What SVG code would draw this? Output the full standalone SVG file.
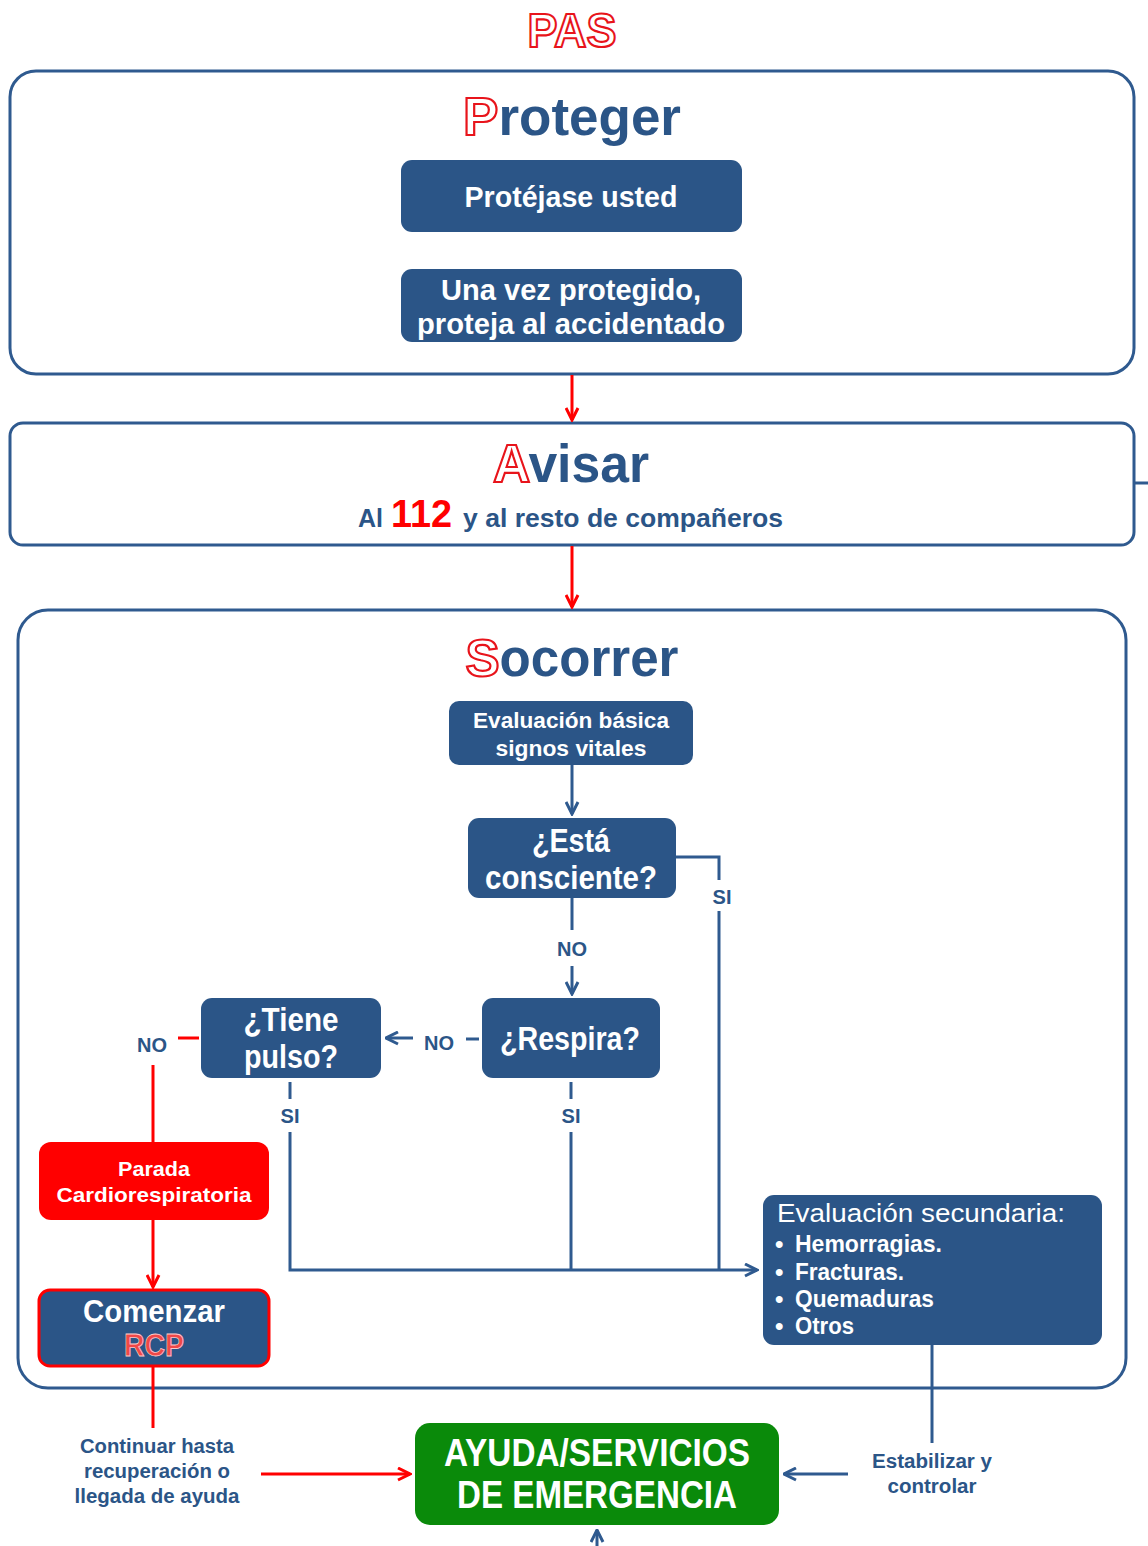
<svg xmlns="http://www.w3.org/2000/svg" width="1148" height="1546" viewBox="0 0 1148 1546">
<defs>
<style>
.frame{fill:#fff;stroke:#2f5a8f;stroke-width:3}
.box{fill:#2b5587}
.wt{fill:#fff;font-family:"Liberation Sans",Arial,sans-serif;font-weight:bold;text-anchor:middle}
.bt{fill:#2b5587;font-family:"Liberation Sans",Arial,sans-serif;font-weight:bold;text-anchor:middle}
.head{fill:#2b5587;font-family:"Liberation Sans",Arial,sans-serif;font-weight:bold;text-anchor:middle}
.init{fill:#fff;stroke:#e8141b;stroke-width:2.2}
.lb{fill:none;stroke:#2f5a8f;stroke-width:3}
.lr{fill:none;stroke:#ff0000;stroke-width:3}
.lab{fill:#2b5587;font-family:"Liberation Sans",Arial,sans-serif;font-size:20px;text-anchor:middle}
</style>
<marker id="ab" viewBox="0 0 10 10" refX="9" refY="5" markerWidth="5" markerHeight="5" orient="auto" markerUnits="strokeWidth"><path d="M1,1 L9,5 L1,9" fill="none" stroke="#2f5a8f" stroke-width="2"/></marker>
<marker id="ar" viewBox="0 0 10 10" refX="9" refY="5" markerWidth="5" markerHeight="5" orient="auto" markerUnits="strokeWidth"><path d="M1,1 L9,5 L1,9" fill="none" stroke="#ff0000" stroke-width="2"/></marker>
</defs>
<rect width="1148" height="1546" fill="#fff"/>

<g id="title">
<text x="572" y="47" font-family="'Liberation Sans',Arial,sans-serif" font-weight="bold" font-size="48" text-anchor="middle" textLength="89" lengthAdjust="spacingAndGlyphs" fill="#fff" stroke="#e8141b" stroke-width="2.2">PAS</text>
</g>

<g id="proteger">
<rect class="frame" x="10" y="71" width="1124" height="303" rx="26"/>
<text class="head" x="572" y="135" font-size="53"><tspan class="init">P</tspan>roteger</text>
</g>
<g id="protejase">
<rect class="box" x="401" y="160" width="341" height="72" rx="11"/>
<text class="wt" x="571" y="207" font-size="30" textLength="213" lengthAdjust="spacingAndGlyphs">Protéjase usted</text>
</g>
<g id="una-vez">
<rect class="box" x="401" y="269" width="341" height="73" rx="11"/>
<text class="wt" x="571" y="300" font-size="30" textLength="260" lengthAdjust="spacingAndGlyphs">Una vez protegido,</text>
<text class="wt" x="571" y="334" font-size="30" textLength="308" lengthAdjust="spacingAndGlyphs">proteja al accidentado</text>
</g>

<g id="avisar">
<rect class="frame" x="10" y="423" width="1124" height="122" rx="13"/>
<text class="head" x="571" y="482" font-size="53" textLength="156" lengthAdjust="spacingAndGlyphs"><tspan class="init">A</tspan>visar</text>
<text x="358" y="527" font-family="'Liberation Sans',Arial,sans-serif" font-weight="bold" font-size="25" fill="#2b5587">Al</text>
<text x="391" y="527" font-family="'Liberation Sans',Arial,sans-serif" font-weight="bold" font-size="39" fill="#ff0000" textLength="61" lengthAdjust="spacingAndGlyphs">112</text>
<text x="463" y="527" font-family="'Liberation Sans',Arial,sans-serif" font-weight="bold" font-size="25" fill="#2b5587" textLength="320" lengthAdjust="spacingAndGlyphs">y al resto de compañeros</text>
</g>

<g id="socorrer">
<rect class="frame" x="18" y="610" width="1108" height="778" rx="30"/>
<text class="head" x="572" y="676" font-size="51" textLength="213" lengthAdjust="spacingAndGlyphs"><tspan class="init">S</tspan>ocorrer</text>
</g>

<g id="eval-basica">
<rect class="box" x="449" y="701" width="244" height="64" rx="10"/>
<text class="wt" x="571" y="728" font-size="22" textLength="196" lengthAdjust="spacingAndGlyphs">Evaluación básica</text>
<text class="wt" x="571" y="756" font-size="22" textLength="151" lengthAdjust="spacingAndGlyphs">signos vitales</text>
</g>

<g id="consciente">
<rect class="box" x="468" y="818" width="208" height="80" rx="11"/>
<text class="wt" x="571" y="852" font-size="33" textLength="78" lengthAdjust="spacingAndGlyphs">¿Está</text>
<text class="wt" x="571" y="889" font-size="33" textLength="172" lengthAdjust="spacingAndGlyphs">consciente?</text>
</g>

<g id="respira">
<rect class="box" x="482" y="998" width="178" height="80" rx="11"/>
<text class="wt" x="570" y="1050" font-size="33" textLength="140" lengthAdjust="spacingAndGlyphs">¿Respira?</text>
</g>

<g id="pulso">
<rect class="box" x="201" y="998" width="180" height="80" rx="11"/>
<text class="wt" x="291" y="1031" font-size="33" textLength="95" lengthAdjust="spacingAndGlyphs">¿Tiene</text>
<text class="wt" x="291" y="1068" font-size="33" textLength="94" lengthAdjust="spacingAndGlyphs">pulso?</text>
</g>

<g id="parada">
<rect x="39" y="1142" width="230" height="78" rx="12" fill="#ff0000"/>
<text class="wt" x="154" y="1176" font-size="21" textLength="72" lengthAdjust="spacingAndGlyphs">Parada</text>
<text class="wt" x="154" y="1202" font-size="21" textLength="195" lengthAdjust="spacingAndGlyphs">Cardiorespiratoria</text>
</g>

<g id="rcp">
<rect x="39" y="1290" width="230" height="76" rx="11" fill="#2b5587" stroke="#ff0000" stroke-width="3"/>
<text class="wt" x="154" y="1322" font-size="31" textLength="142" lengthAdjust="spacingAndGlyphs">Comenzar</text>
<text x="154" y="1356" font-family="'Liberation Sans',Arial,sans-serif" font-weight="bold" font-size="31" text-anchor="middle" fill="#f04848" stroke="#ffc8c8" stroke-width="0.8" textLength="60" lengthAdjust="spacingAndGlyphs">RCP</text>
</g>

<g id="eval-secundaria">
<rect class="box" x="763" y="1195" width="339" height="150" rx="11"/>
<text x="777" y="1222" font-family="'Liberation Sans',Arial,sans-serif" font-size="25" fill="#fff" textLength="288" lengthAdjust="spacingAndGlyphs">Evaluación secundaria:</text>
<g font-family="'Liberation Sans',Arial,sans-serif" font-size="24" font-weight="bold" fill="#fff">
<text x="775" y="1252">•</text><text x="795" y="1252" textLength="147" lengthAdjust="spacingAndGlyphs">Hemorragias.</text>
<text x="775" y="1280">•</text><text x="795" y="1280" textLength="109" lengthAdjust="spacingAndGlyphs">Fracturas.</text>
<text x="775" y="1307">•</text><text x="795" y="1307" textLength="139" lengthAdjust="spacingAndGlyphs">Quemaduras</text>
<text x="775" y="1334">•</text><text x="795" y="1334" textLength="59" lengthAdjust="spacingAndGlyphs">Otros</text>
</g>
</g>

<g id="ayuda">
<rect x="415" y="1423" width="364" height="102" rx="15" fill="#0a8a0a"/>
<text class="wt" x="597" y="1466" font-size="38" textLength="306" lengthAdjust="spacingAndGlyphs">AYUDA/SERVICIOS</text>
<text class="wt" x="597" y="1508" font-size="38" textLength="280" lengthAdjust="spacingAndGlyphs">DE EMERGENCIA</text>
</g>

<g id="continuar">
<text class="bt" x="157" y="1453" font-size="20" textLength="154" lengthAdjust="spacingAndGlyphs">Continuar hasta</text>
<text class="bt" x="157" y="1478" font-size="20" textLength="146" lengthAdjust="spacingAndGlyphs">recuperación o</text>
<text class="bt" x="157" y="1503" font-size="20" textLength="165" lengthAdjust="spacingAndGlyphs">llegada de ayuda</text>
</g>

<g id="estabilizar">
<text class="bt" x="932" y="1468" font-size="20" textLength="120" lengthAdjust="spacingAndGlyphs">Estabilizar y</text>
<text class="bt" x="932" y="1493" font-size="20" textLength="89" lengthAdjust="spacingAndGlyphs">controlar</text>
</g>

<g id="connectors">
<line class="lr" x1="572" y1="375" x2="572" y2="420" marker-end="url(#ar)"/>
<line class="lb" x1="1135" y1="483" x2="1148" y2="483"/>
<line class="lr" x1="572" y1="546" x2="572" y2="607" marker-end="url(#ar)"/>
<line class="lb" x1="572" y1="765" x2="572" y2="814" marker-end="url(#ab)"/>
<polyline class="lb" points="676,857 719,857 719,880"/>
<text class="lab" x="722" y="904" font-weight="bold" font-size="19">SI</text>
<line class="lb" x1="719" y1="911" x2="719" y2="1270"/>
<line class="lb" x1="572" y1="898" x2="572" y2="930"/>
<text class="lab" x="572" y="956" font-weight="bold" font-size="19">NO</text>
<line class="lb" x1="572" y1="966" x2="572" y2="994" marker-end="url(#ab)"/>
<line class="lb" x1="466" y1="1039" x2="479" y2="1039"/>
<text class="lab" x="439" y="1050" font-weight="bold" font-size="19">NO</text>
<line class="lb" x1="413" y1="1038" x2="386" y2="1038" marker-end="url(#ab)"/>
<line class="lr" x1="178" y1="1038" x2="199" y2="1038"/>
<text class="lab" x="152" y="1052" font-weight="bold" font-size="19">NO</text>
<line class="lr" x1="153" y1="1065" x2="153" y2="1142"/>
<line class="lb" x1="290" y1="1082" x2="290" y2="1099"/>
<text class="lab" x="290" y="1123" font-weight="bold" font-size="19">SI</text>
<polyline class="lb" points="290,1132 290,1270 757,1270" marker-end="url(#ab)"/>
<line class="lb" x1="571" y1="1082" x2="571" y2="1099"/>
<text class="lab" x="571" y="1123" font-weight="bold" font-size="19">SI</text>
<line class="lb" x1="571" y1="1132" x2="571" y2="1270"/>
<line class="lr" x1="153" y1="1220" x2="153" y2="1287" marker-end="url(#ar)"/>
<line class="lr" x1="153" y1="1366" x2="153" y2="1428"/>
<line class="lb" x1="932" y1="1345" x2="932" y2="1443"/>
<line class="lb" x1="848" y1="1474" x2="784" y2="1474" marker-end="url(#ab)"/>
<line class="lr" x1="261" y1="1474" x2="410" y2="1474" marker-end="url(#ar)"/>
<line class="lb" x1="597" y1="1546" x2="597" y2="1530" stroke-width="2" marker-end="url(#ab)"/>
</g>
</svg>
